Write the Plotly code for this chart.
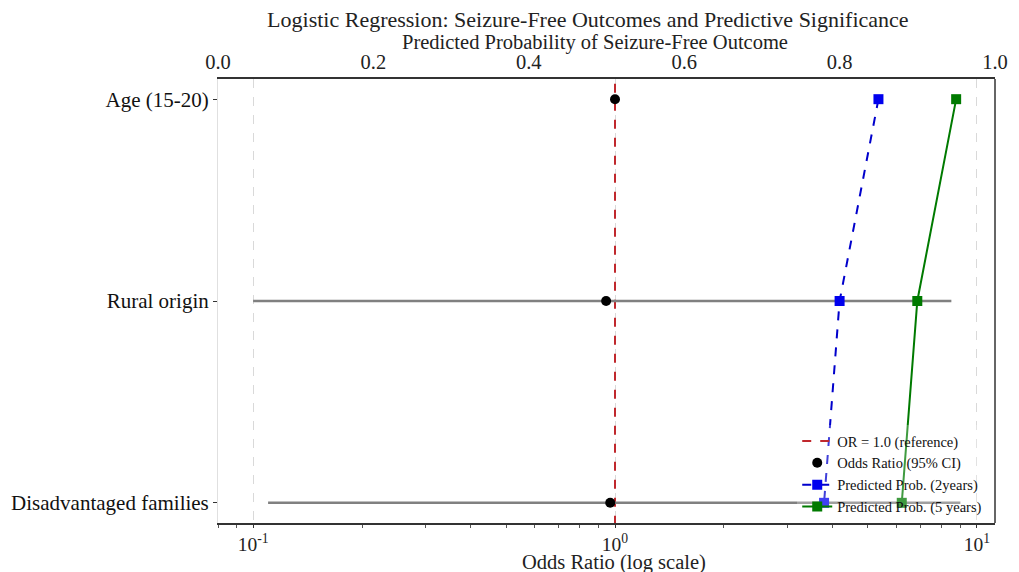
import plotly.graph_objects as go

# ---- data ----
categories = ["Age (15-20)", "Rural origin", "Disadvantaged families"]
odds_ratio = [1.0, 0.945, 0.97]
ci_low = [None, 0.10, 0.11]
ci_high = [None, 8.5, 9.0]
prob_2yr = [0.85, 0.80, 0.78]
prob_5yr = [0.95, 0.90, 0.88]
or_reference = 1.0

log_tick_vals = [0.1, 1, 10]
log_tick_text = ["10<sup>-1</sup>", "10<sup>0</sup>", "10<sup>1</sup>"]
prob_tick_vals = [0.0, 0.2, 0.4, 0.6, 0.8, 1.0]

title_text = "Logistic Regression: Seizure-Free Outcomes and Predictive Significance"
top_axis_title = "Predicted Probability of Seizure-Free Outcome"
bottom_axis_title = "Odds Ratio (log scale)"

# numeric y positions: top category first
n = len(categories)
ypos = [n - 1 - i for i in range(n)]

FONT = "Liberation Serif, Times New Roman, serif"

fig = go.Figure()

# reference line (OR = 1)
fig.add_trace(go.Scatter(
    x=[or_reference, or_reference], y=[-1, n + 1], mode="lines",
    line=dict(color="#c0282d", width=2, dash="dash"),
    name="OR = 1.0 (reference)", xaxis="x", yaxis="y"))

# CI lines
for i in range(n):
    if ci_low[i] is not None:
        fig.add_trace(go.Scatter(
            x=[ci_low[i], ci_high[i]], y=[ypos[i], ypos[i]], mode="lines",
            line=dict(color="#808080", width=2.5), showlegend=False,
            hoverinfo="skip", xaxis="x", yaxis="y"))

# odds ratio points
fig.add_trace(go.Scatter(
    x=odds_ratio, y=ypos, mode="markers",
    marker=dict(color="black", size=10, symbol="circle"),
    name="Odds Ratio (95% CI)", xaxis="x", yaxis="y"))

# predicted probabilities (top axis)
fig.add_trace(go.Scatter(
    x=prob_2yr, y=ypos, mode="lines+markers",
    line=dict(color="#0000cc", width=2, dash="dash"),
    marker=dict(color="#0000ee", size=10, symbol="square"),
    name="Predicted Prob. (2years)", xaxis="x2", yaxis="y"))
fig.add_trace(go.Scatter(
    x=prob_5yr, y=ypos, mode="lines+markers",
    line=dict(color="#007a00", width=2),
    marker=dict(color="#007a00", size=10, symbol="square"),
    name="Predicted Prob. (5 years)", xaxis="x2", yaxis="y"))

minor_vals = [m * 10 ** e for e in (-2, -1, 0, 1) for m in range(2, 10)]

W, H = 1011, 564
ML, MR, MT, MB = 210, 24, 71, 49
plot_h = H - MT - MB

# the page has an 8px body margin, so size the figure to the visible area
fig.update_layout(
    width=W, height=H,
    margin=dict(l=ML, r=MR, t=MT, b=MB),
    paper_bgcolor="white", plot_bgcolor="white",
    font=dict(family=FONT, size=21, color="#222"),
    title=dict(text=title_text,
               x=0.476, xanchor="center", y=1 - 11 / H, yanchor="middle",
               xref="paper",
               font=dict(family=FONT, size=22, color="#222")),
    xaxis=dict(
        type="log", range=[-1.097, 1.05],
        tickvals=log_tick_vals, ticktext=log_tick_text,
        ticks="outside", ticklen=3, tickcolor="#333",
        minor=dict(tickvals=minor_vals, ticks="outside", ticklen=3,
                   tickcolor="#555", showgrid=False),
        showgrid=True, gridcolor="#d9d9d9", griddash="dash", gridwidth=1,
        showline=True, linecolor="#333", linewidth=1.5, mirror=False,
        zeroline=False, automargin=False,
        tickfont=dict(family=FONT, size=19.5),
    ),
    xaxis2=dict(
        overlaying="x", side="top", range=[0, 1],
        tickvals=prob_tick_vals, tickformat=".1f",
        ticks="", ticklen=0,
        showgrid=False, zeroline=False, automargin=False,
        showline=True, linecolor="#333", linewidth=1.5,
        tickfont=dict(family=FONT, size=20.5),
    ),
    yaxis=dict(
        range=[-0.1, n - 1 + 0.1],
        tickvals=ypos, ticktext=categories,
        ticks="outside", ticklen=4, tickcolor="#333",
        showgrid=False, zeroline=False, automargin=False,
        showline=True, linecolor="#e0e0e0", linewidth=1,
        tickfont=dict(family=FONT, size=21, color="#111"),
    ),
    legend=dict(
        x=0.99, xanchor="right", y=0.0, yanchor="bottom",
        bgcolor="rgba(255,255,255,0.25)",
        font=dict(family=FONT, size=14.5, color="#111"),
        tracegroupgap=0, itemwidth=30,
    ),
    showlegend=True,
    annotations=[
        dict(text=top_axis_title, xref="paper", yref="paper",
             x=0.485, y=1 + 36 / plot_h, xanchor="center", yanchor="middle",
             showarrow=False, font=dict(family=FONT, size=20.5, color="#222")),
        dict(text=bottom_axis_title, xref="paper", yref="paper",
             x=0.51, y=-39 / plot_h, xanchor="center", yanchor="middle",
             showarrow=False, font=dict(family=FONT, size=20.5, color="#222")),
    ],
)

# right border line
fig.add_shape(type="line", xref="paper", yref="paper", x0=1, x1=1, y0=0, y1=1,
              line=dict(color="#333", width=1.5))

fig.write_html("out.html")
